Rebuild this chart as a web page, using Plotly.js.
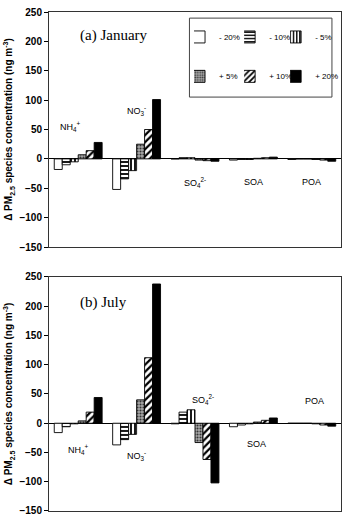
<!DOCTYPE html>
<html>
<head>
<meta charset="utf-8">
<script src="https://cdn.plot.ly/plotly-3.0.1.min.js"></script>
<style>html,body{margin:0;padding:0;background:#fff;}#chart{width:346px;height:517px;}</style>
</head>
<body>
<div id="chart"></div>
<script>
const categories = ['NH4', 'NO3', 'SO4', 'SOA', 'POA'];
const seriesNames = ['- 20%', '- 10%', '- 5%', '+ 5%', '+ 10%', '+ 20%'];
// January (a)
const janM20 = [-18, -52, 0, -2, -1];
const janM10 = [-10, -34, 2, -1, 0];
const janM5  = [-5, -20, 2, -1, 0];
const janP5  = [7, 25, -2, 1, -1];
const janP10 = [14, 50, -3, 2, -2];
const janP20 = [28, 101, -4, 3, -4];
// July (b)
const julM20 = [-16, -37, -1, -6, 0];
const julM10 = [-6, -28, 19, -3, 0];
const julM5  = [-1, -19, 23, -1, 0];
const julP5  = [4, 40, -33, 2, -1];
const julP10 = [19, 112, -62, 5, -3];
const julP20 = [44, 238, -102, 9, -5];
const yTicks = [-150, -100, -50, 0, 50, 100, 150, 200, 250];

const styles = [
  {color: 'white', pattern: {shape: ''}},
  {color: 'white', pattern: {shape: '-', fgcolor: 'black', bgcolor: 'white', size: 4, solidity: 0.45}},
  {color: 'white', pattern: {shape: '|', fgcolor: 'black', bgcolor: 'white', size: 4, solidity: 0.45}},
  {color: '#999', pattern: {shape: '.', fgcolor: '#333', bgcolor: '#aaa', size: 3, solidity: 0.4}},
  {color: 'white', pattern: {shape: '/', fgcolor: 'black', bgcolor: 'white', size: 5, solidity: 0.45}},
  {color: 'black', pattern: {shape: ''}}
];
const legendIds = ['legend', 'legend2', 'legend3', 'legend4', 'legend5', 'legend6'];

const jan = [janM20, janM10, janM5, janP5, janP10, janP20];
const jul = [julM20, julM10, julM5, julP5, julP10, julP20];
const traces = [];
jan.forEach((vals, i) => {
  traces.push({
    type: 'bar', x: categories, y: vals, name: seriesNames[i],
    xaxis: 'x', yaxis: 'y',
    legend: legendIds[i],
    marker: {color: styles[i].color, pattern: styles[i].pattern, line: {color: 'black', width: 0.9}},
    hoverinfo: 'skip'
  });
});
jul.forEach((vals, i) => {
  traces.push({
    type: 'bar', x: categories, y: vals, name: seriesNames[i], showlegend: false,
    xaxis: 'x2', yaxis: 'y2',
    marker: {color: styles[i].color, pattern: styles[i].pattern, line: {color: 'black', width: 0.9}},
    hoverinfo: 'skip'
  });
});

const tickFont = {family: 'Liberation Sans, Arial, sans-serif', size: 10, color: 'black', weight: 'bold'};
const yTitle = {
  text: 'Δ PM<sub>2.5</sub> species concentration (ng m<sup>-3</sup>)',
  font: {family: 'Liberation Sans, Arial, sans-serif', size: 10, color: 'black', weight: 'bold'},
  standoff: 4
};
function yax(domain, anchor) {
  return {
    domain: domain, anchor: anchor, range: [-150, 250], tickvals: yTicks,
    ticks: 'outside', ticklen: 4, tickwidth: 1, tickcolor: 'black',
    showgrid: false, zeroline: true, zerolinecolor: 'black', zerolinewidth: 1,
    showline: true, linecolor: '#333', linewidth: 1, mirror: true,
    tickfont: tickFont, title: yTitle, automargin: false
  };
}
function xax(anchor) {
  return {
    anchor: anchor, showticklabels: false, ticks: '', showgrid: false,
    showline: true, linecolor: '#333', linewidth: 1, mirror: true, zeroline: false
  };
}
const lab = {family: 'Liberation Sans, Arial, sans-serif', size: 9, color: 'black'};
const ser = {family: 'Liberation Serif, Times New Roman, serif', size: 15, color: 'black'};
const annotations = [
  {xref: 'x domain', yref: 'y domain', x: 0.1, y: 0.898, text: '(a) January', showarrow: false, xanchor: 'left', yanchor: 'middle', font: ser},
  {xref: 'x2 domain', yref: 'y2 domain', x: 0.1, y: 0.889, text: '(b) July', showarrow: false, xanchor: 'left', yanchor: 'middle', font: ser},
  {xref: 'x', yref: 'y', x: 'NH4', y: 55, text: 'NH<sub>4</sub><sup>+</sup>', showarrow: false, xshift: -8, font: lab},
  {xref: 'x', yref: 'y', x: 'NO3', y: 83, text: 'NO<sub>3</sub><sup>-</sup>', showarrow: false, font: lab},
  {xref: 'x', yref: 'y', x: 'SO4', y: -40, text: 'SO<sub>4</sub><sup>2-</sup>', showarrow: false, font: lab},
  {xref: 'x', yref: 'y', x: 'SOA', y: -40, text: 'SOA', showarrow: false, font: lab},
  {xref: 'x', yref: 'y', x: 'POA', y: -40, text: 'POA', showarrow: false, font: lab},
  {xref: 'x2', yref: 'y2', x: 'NH4', y: -45, text: 'NH<sub>4</sub><sup>+</sup>', showarrow: false, font: lab},
  {xref: 'x2', yref: 'y2', x: 'NO3', y: -55, text: 'NO<sub>3</sub><sup>-</sup>', showarrow: false, font: lab},
  {xref: 'x2', yref: 'y2', x: 'SO4', y: 40, text: 'SO<sub>4</sub><sup>2-</sup>', showarrow: false, xshift: 8, font: lab},
  {xref: 'x2', yref: 'y2', x: 'SOA', y: -35, text: 'SOA', showarrow: false, xshift: 3, font: lab},
  {xref: 'x2', yref: 'y2', x: 'POA', y: 38, text: 'POA', showarrow: false, xshift: 3, font: lab}
];
const legFont = {family: 'Liberation Sans, Arial, sans-serif', size: 8, color: 'black'};
function leg(x, y) {
  return {orientation: 'h', xref: 'paper', yref: 'paper', x: x, y: y, xanchor: 'left', yanchor: 'middle',
    font: legFont, bgcolor: 'rgba(0,0,0,0)', itemwidth: 30, indentation: -15};
}
const layout = {
  width: 346, height: 517,
  margin: {l: 49, r: 4, t: 12, b: 6},
  paper_bgcolor: 'white', plot_bgcolor: 'white',
  barmode: 'group', bargap: 0.18, bargroupgap: 0,
  xaxis: xax('y'), yaxis: yax([0.529, 1], 'x'),
  xaxis2: xax('y2'), yaxis2: yax([0, 0.469], 'x2'),
  showlegend: true,
  legend: leg(0.495, 0.950),
  legend2: leg(0.666, 0.950),
  legend3: leg(0.823, 0.950),
  legend4: leg(0.495, 0.871),
  legend5: leg(0.666, 0.871),
  legend6: leg(0.823, 0.871),
  shapes: [
    {type: 'rect', xref: 'x domain', yref: 'y domain', x0: 0.481, x1: 0.969, y0: 0.638, y1: 0.974,
     line: {color: '#444', width: 1}, fillcolor: 'rgba(0,0,0,0)'}
  ],
  annotations: annotations
};
Plotly.newPlot('chart', traces, layout, {staticPlot: true});
</script>
</body>
</html>
